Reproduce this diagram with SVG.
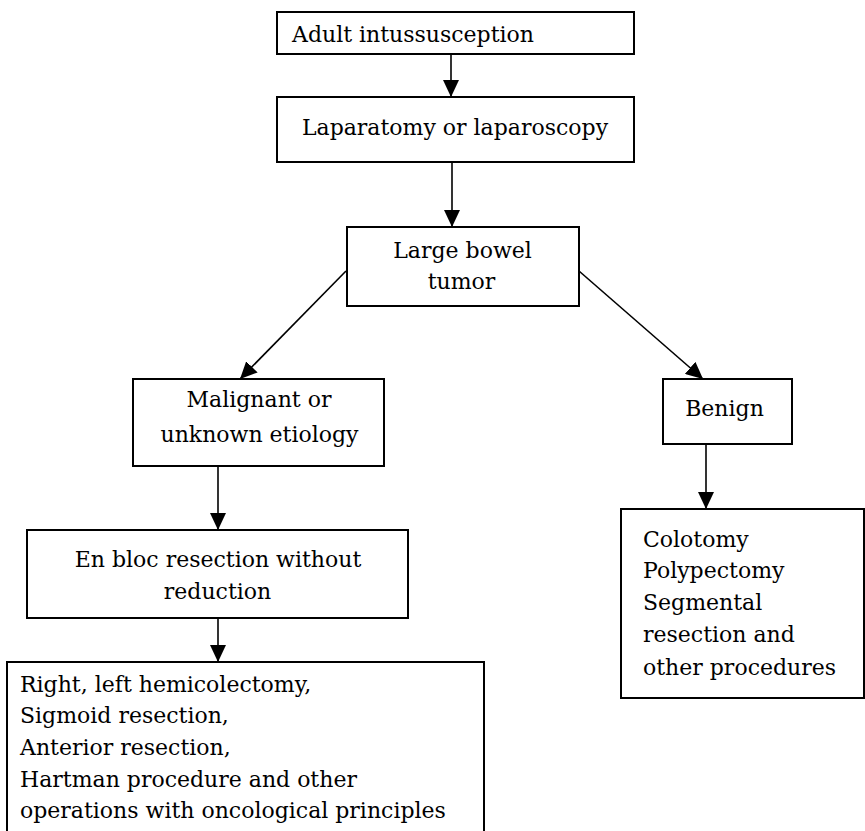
<svg xmlns="http://www.w3.org/2000/svg" width="865" height="831" viewBox="0 0 865 831">
<style>
.box{fill:#fff;stroke:#000;stroke-width:2}
.t{font-family:"DejaVu Serif","Liberation Serif",serif;font-size:22px;fill:#000}
.c{text-anchor:middle}
.edge{stroke:#000;stroke-width:1.6;fill:none;marker-end:url(#ah)}
</style>
<defs>
<marker id="ah" viewBox="0 0 17 16" refX="17" refY="8" markerWidth="17" markerHeight="16" orient="auto" markerUnits="userSpaceOnUse">
<path d="M0,0 L17,8 L0,16 z" fill="#000"/>
</marker>
</defs>
<rect width="865" height="831" fill="#fff"/>
<g id="connectors">
<line class="edge" x1="451" y1="54" x2="451" y2="97"/>
<line class="edge" x1="452" y1="162" x2="452" y2="227"/>
<line class="edge" x1="346" y1="271" x2="240" y2="379"/>
<line class="edge" x1="579" y1="271" x2="703" y2="379"/>
<line class="edge" x1="218" y1="466" x2="218" y2="530"/>
<line class="edge" x1="706" y1="444" x2="706" y2="509"/>
<line class="edge" x1="218" y1="618" x2="218" y2="662"/>
</g>
<g id="n1">
<rect class="box" x="277" y="12" width="357" height="42"/>
<text class="t" x="292" y="42">Adult intussusception</text>
</g>
<g id="n2">
<rect class="box" x="277" y="97" width="357" height="65"/>
<text class="t c" x="455" y="135">Laparatomy or laparoscopy</text>
</g>
<g id="n3">
<rect class="box" x="347" y="227" width="232" height="79"/>
<text class="t c" x="462.5" y="258">Large bowel</text>
<text class="t c" x="461.5" y="289">tumor</text>
</g>
<g id="n4">
<rect class="box" x="133" y="379" width="251" height="87"/>
<text class="t c" x="259" y="407">Malignant or</text>
<text class="t c" x="259.5" y="442">unknown etiology</text>
</g>
<g id="n5">
<rect class="box" x="663" y="379" width="129" height="65"/>
<text class="t c" x="724.5" y="416">Benign</text>
</g>
<g id="n6">
<rect class="box" x="27" y="530" width="381" height="88"/>
<text class="t c" x="218" y="567">En bloc resection without</text>
<text class="t c" x="217.5" y="599">reduction</text>
</g>
<g id="n7">
<rect class="box" x="7" y="662" width="477" height="190"/>
<text class="t" x="20" y="692">Right, left hemicolectomy,</text>
<text class="t" x="20" y="723">Sigmoid resection,</text>
<text class="t" x="20" y="755">Anterior resection,</text>
<text class="t" x="20" y="787">Hartman procedure and other</text>
<text class="t" x="20" y="818">operations with oncological principles</text>
</g>
<g id="n8">
<rect class="box" x="621" y="509" width="243" height="189"/>
<text class="t" x="643" y="547">Colotomy</text>
<text class="t" x="643" y="578">Polypectomy</text>
<text class="t" x="643" y="610">Segmental</text>
<text class="t" x="643" y="642">resection and</text>
<text class="t" x="643" y="675">other procedures</text>
</g>
</svg>
